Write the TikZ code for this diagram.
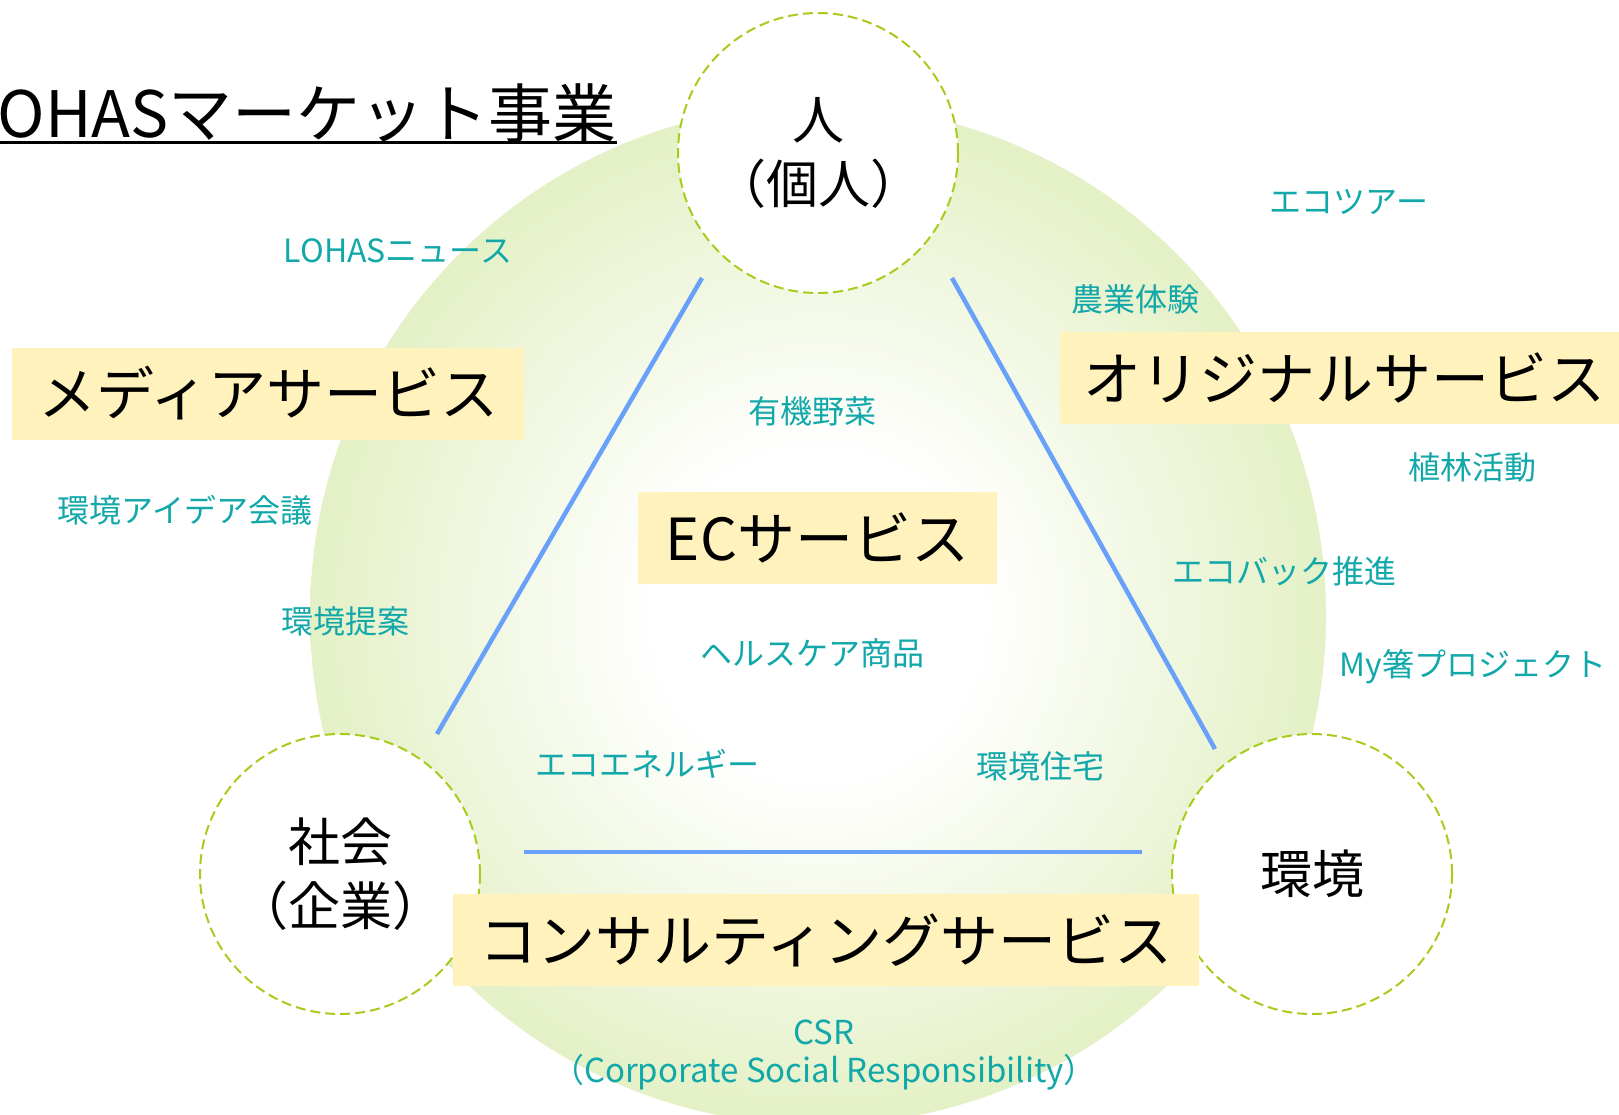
\documentclass[tikz,border=0pt]{standalone}
\usepackage{fontspec}
\setmainfont{Noto Sans CJK JP}
\definecolor{lgreen}{RGB}{210,231,160}
\definecolor{dgreen}{RGB}{168,204,30}
\definecolor{lblue}{RGB}{104,160,250}
\definecolor{lyellow}{RGB}{255,242,188}
\definecolor{tealtxt}{RGB}{18,168,170}
\pgfdeclareradialshading{greenrad}{\pgfpoint{0bp}{0bp}}{color(0bp)=(white); color(8bp)=(white); color(36bp)=(lgreen); color(50bp)=(lgreen)}
\begin{document}
\begin{tikzpicture}[x=1pt,y=-1pt,
  circ/.style={circle, draw=dgreen, dash pattern=on 10pt off 5pt, line width=2pt, fill=white, minimum size=280pt, inner sep=0pt, align=center, font=\fontsize{52}{64}\selectfont},
  ybox/.style={fill=lyellow, inner sep=0pt, minimum height=92pt, font=\fontsize{58}{70}\selectfont},
  lbl/.style={text=tealtxt, inner sep=0pt, align=center, font=\fontsize{32}{38}\selectfont},
  bline/.style={draw=lblue, line width=4.5pt}]
\useasboundingbox (0,0) rectangle (1619,1114);
% green background
\shade[shading=greenrad] (818,615) ellipse [x radius=508pt, y radius=510pt];
% title
\node[anchor=base east, inner sep=0pt, font=\fontsize{64}{70}\selectfont] (title) at (617,137) {LOHASマーケット事業};
\draw[line width=3pt] ([yshift=-5pt]title.base west) -- ([yshift=-5pt]title.base east);
% blue lines
\coordinate (a1) at (702,278); \coordinate (a2) at (437,734);
\coordinate (b1) at (952,278); \coordinate (b2) at (1215,749);
\coordinate (c1) at (524,852); \coordinate (c2) at (1142,852);
\draw[bline] (a1) -- (a2);
\draw[bline] (b1) -- (b2);
\draw[bline] (c1) -- (c2);
% circles
\node[circ] (hito) at (818,153) {人\\（個人）};
\node[circ] (shakai) at (340,874) {社会\\（企業）};
\node[circ] (kankyo) at (1312,874) {環境};
% yellow boxes
\node[ybox, minimum width=512pt] (media) at (268,393.5) {メディアサービス};
\node[ybox, minimum width=569pt] (orig) at (1344.5,378) {オリジナルサービス};
\node[ybox, minimum width=359pt] (ec) at (817.5,538) {ECサービス};
\node[ybox, minimum width=746pt] (consul) at (826,940) {コンサルティングサービス};
% teal labels
\node[lbl] (l1) at (398,251) {LOHASニュース};
\node[lbl] (l2) at (1349,202) {エコツアー};
\node[lbl] (l3) at (1135,299) {農業体験};
\node[lbl] (l4) at (812,411) {有機野菜};
\node[lbl] (l5) at (1472,467) {植林活動};
\node[lbl] (l6) at (185,510) {環境アイデア会議};
\node[lbl] (l7) at (1284,571) {エコバック推進};
\node[lbl] (l8) at (345,621) {環境提案};
\node[lbl] (l9) at (812,653) {ヘルスケア商品};
\node[lbl] (l10) at (1473,667) {My箸プロジェクト};
\node[lbl] (l11) at (647,764) {エコエネルギー};
\node[lbl] (l12) at (1040,766) {環境住宅};
\node[lbl, font=\fontsize{33}{38}\selectfont] (l13) at (824,1055) {CSR\\（Corporate Social Responsibility）};
\end{tikzpicture}
\end{document}
